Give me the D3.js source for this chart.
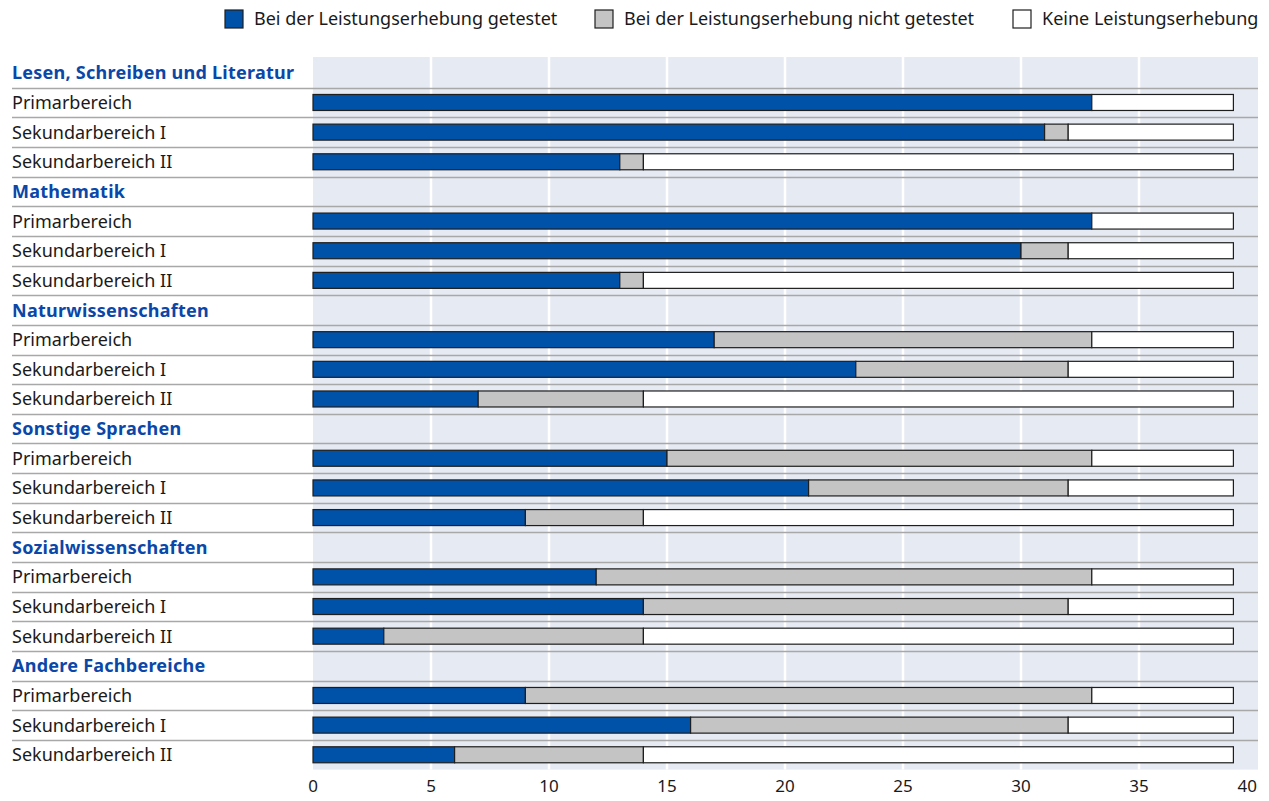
<!DOCTYPE html>
<html>
<head>
<meta charset="utf-8">
<script src="https://cdn.jsdelivr.net/npm/d3@7"></script>
<style>
  body { margin: 0; background: #fff; }
  svg { display: block; font-family: "Noto Sans", "Open Sans", sans-serif; }
</style>
</head>
<body>
<svg id="chart"></svg>
<script>
var groups = ["Lesen, Schreiben und Literatur", "Mathematik", "Naturwissenschaften",
              "Sonstige Sprachen", "Sozialwissenschaften", "Andere Fachbereiche"]
var levels = ["Primarbereich", "Sekundarbereich I", "Sekundarbereich II"]

// counts per group, in level order
var getestet      = [33, 31, 13,  33, 30, 13,  17, 23, 7,  15, 21, 9,  12, 14, 3,   9, 16, 6]
var nichtGetestet = [ 0,  1,  1,   0,  2,  1,  16,  9, 7,  18, 11, 5,  21, 18, 11, 24, 16, 8]
var keine         = [ 6,  7, 25,   6,  7, 25,   6,  7, 25,  6,  7, 25,  6,  7, 25,  6,  7, 25]

var legendLabels = ["Bei der Leistungserhebung getestet",
                    "Bei der Leistungserhebung nicht getestet",
                    "Keine Leistungserhebung"]
var xTicks = [0, 5, 10, 15, 20, 25, 30, 35, 40]

var dimensions = {
  width: 1269,
  height: 801,
  margin: { top: 58, bottom: 31.4, right: 12, left: 313 }
}
var colors = ["#0051a8", "#c4c4c4", "#ffffff"]
var keys = ["g", "n", "k"]

// build rows: header row for every group, then the three levels
var rows = []
var k = 0
groups.forEach(function(g, gi) {
  rows.push({ id: "h" + gi, label: g, header: true })
  levels.forEach(function(l, li) {
    rows.push({ id: "r" + gi + "_" + li, label: l, header: false,
                g: getestet[k], n: nichtGetestet[k], k: keine[k] })
    k++
  })
})

var svg = d3.select("#chart")
  .attr("width", dimensions.width)
  .attr("height", dimensions.height)

var xScale = d3.scaleLinear()
  .domain([0, 40])
  .range([dimensions.margin.left, dimensions.width - dimensions.margin.right])

var yScale = d3.scaleBand()
  .domain(rows.map(d => d.id))
  .range([dimensions.margin.top, dimensions.height - dimensions.margin.bottom])

// background panel
svg.append("rect")
  .attr("x", xScale(0))
  .attr("y", yScale.range()[0] - 1)
  .attr("width", xScale(40) - xScale(0) + 1)
  .attr("height", yScale.range()[1] - yScale.range()[0] + 1)
  .attr("fill", "#e6eaf2")

// white gridlines
svg.append("g")
  .selectAll("line")
  .data(xTicks.slice(1, -1))
  .enter()
  .append("line")
  .attr("x1", d => xScale(d))
  .attr("x2", d => xScale(d))
  .attr("y1", yScale.range()[0] - 1)
  .attr("y2", yScale.range()[1])
  .attr("stroke", "#fff")
  .attr("stroke-width", 2.5)

// row separators
svg.append("g")
  .selectAll("line")
  .data(rows.slice(0, -1))
  .enter()
  .append("line")
  .attr("x1", 12)
  .attr("x2", xScale(40) + 1)
  .attr("y1", d => Math.round(yScale(d.id) + yScale.bandwidth()) + 0.5)
  .attr("y2", d => Math.round(yScale(d.id) + yScale.bandwidth()) + 0.5)
  .attr("stroke", "#a8a8a8")
  .attr("stroke-width", 1.5)

// row labels
svg.append("g")
  .selectAll("text")
  .data(rows)
  .enter()
  .append("text")
  .attr("x", 12)
  .attr("y", d => yScale(d.id) + yScale.bandwidth() / 2)
  .attr("dy", "0.36em")
  .style("font-size", "18px")
  .style("font-weight", d => d.header ? "bold" : "normal")
  .style("letter-spacing", d => d.header ? "0.25px" : "0px")
  .attr("fill", d => d.header ? "#0a47a8" : "#1a1a1a")
  .text(d => d.label)

// stacked bars
var barRows = rows.filter(d => !d.header)
var stacked = d3.stack().keys(keys)(barRows)
var barH = 16

svg.append("g")
  .selectAll("g")
  .data(stacked)
  .enter()
  .append("g")
  .attr("fill", (d, i) => colors[i])
  .selectAll("rect")
  .data(d => d.filter(s => s[1] > s[0]))
  .enter()
  .append("rect")
  .attr("x", d => xScale(d[0]))
  .attr("y", d => yScale(d.data.id) + (yScale.bandwidth() - barH) / 2)
  .attr("width", d => xScale(d[1]) - xScale(d[0]))
  .attr("height", barH)
  .attr("stroke", "#1e1e1e")
  .attr("stroke-width", 1.2)

// x axis labels
var xAxis = svg.append("g")
  .attr("transform", "translate(0," + (dimensions.height - 9) + ")")
xAxis.selectAll("text")
  .data(xTicks)
  .enter()
  .append("text")
  .attr("x", d => xScale(d))
  .attr("text-anchor", (d, i) => i == xTicks.length - 1 ? "end" : "middle")
  .style("font-size", "17px")
  .attr("fill", "#1a1a1a")
  .text(d => d)

// legend
var legendX = [225, 595, 1013]
var legend = svg.append("g")
  .selectAll("g")
  .data(legendLabels)
  .enter()
  .append("g")
  .attr("transform", (d, i) => "translate(" + legendX[i] + ",10)")
legend.append("rect")
  .attr("width", 18)
  .attr("height", 18)
  .attr("fill", (d, i) => colors[i])
  .attr("stroke", "#1e1e1e")
  .attr("stroke-width", 1.2)
legend.append("text")
  .attr("x", 29)
  .attr("y", 9)
  .attr("dy", "0.36em")
  .style("font-size", "18px")
  .attr("fill", "#1a1a1a")
  .text(d => d)
</script>
</body>
</html>
